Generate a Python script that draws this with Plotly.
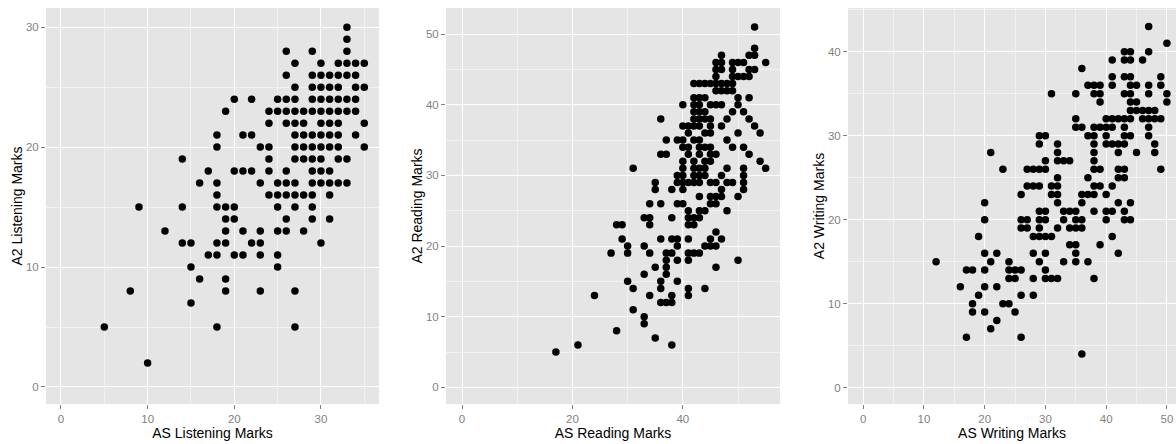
import plotly.graph_objects as go

# ---- Data: (AS mark, A2 mark) pairs ----
listening_pairs = [
    (33,30),(33,29),(33,28),(26,28),(29,28),(27,27),(30,27),(32,27),(33,27),(34,27),(35,27),
    (26,26),(29,26),(30,26),(31,26),(32,26),(33,26),(34,26),
    (34,25),(35,25),(27,25),(29,25),(30,25),(31,25),(32,25),
    (20,24),(22,24),(25,24),(26,24),(27,24),(29,24),(30,24),(31,24),(32,24),(33,24),(34,24),
    (19,23),(24,23),(25,23),(26,23),(27,23),(28,23),(29,23),(30,23),(31,23),(32,23),(33,23),(34,23),
    (24,22),(26,22),(27,22),(28,22),(30,22),(31,22),(32,22),(35,22),
    (18,21),(21,21),(22,21),(27,21),(28,21),(29,21),(30,21),(31,21),(32,21),(34,21),
    (18,20),(23,20),(24,20),(27,20),(28,20),(29,20),(30,20),(31,20),(32,20),(35,20),
    (14,19),(24,19),(27,19),(28,19),(29,19),(30,19),(32,19),(33,19),
    (26,18),(20,18),(21,18),(22,18),(24,18),(29,18),(30,18),(31,18),(17,18),
    (16,17),(18,17),(23,17),(25,17),(26,17),(27,17),(29,17),(30,17),(31,17),(32,17),(33,17),
    (18,16),(24,16),(25,16),(26,16),(27,16),(28,16),(29,16),(31,16),
    (14,15),(9,15),(18,15),(19,15),(20,15),(25,15),(27,15),(29,15),
    (19,14),(20,14),(26,14),(29,14),(31,14),
    (12,13),(19,13),(21,13),(23,13),(25,13),(26,13),(28,13),
    (14,12),(15,12),(18,12),(19,12),(22,12),(23,12),(30,12),
    (17,11),(18,11),(20,11),(21,11),(23,11),(25,11),
    (15,10),(25,10),(16,9),(19,9),
    (8,8),(19,8),(23,8),(27,8),(15,7),
    (18,5),(27,5),(5,5),(10,2),
]

reading_pairs = [
    (53,51),(53,48),(52,47),(53,47),(47,47),(46,46),(47,46),(49,46),(50,46),(51,46),(55,46),
    (46,45),(47,45),(49,45),(52,45),(53,45),
    (46,44),(49,44),(50,44),(51,44),(52,44),
    (42,43),(43,43),(44,43),(45,43),(46,43),(47,43),(48,43),(49,43),
    (46,42),(47,42),(48,42),(49,42),
    (52,41),(42,41),(43,41),(44,41),(50,41),
    (43,40),(45,40),(46,40),(47,40),(50,40),(40,40),(42,40),
    (42,39),(43,39),(44,39),(51,39),(49,39),
    (42,38),(43,38),(44,38),(45,38),(36,38),(48,38),(52,38),
    (40,37),(41,37),(42,37),(43,37),(45,37),(47,37),(53,37),
    (41,36),(44,36),(45,36),(50,36),(54,36),
    (37,35),(39,35),(40,35),(42,35),(43,35),(48,35),
    (40,34),(41,34),(43,34),(44,34),(45,34),(49,34),(51,34),
    (36,33),(37,33),(41,33),(43,33),(45,33),(46,33),(52,33),
    (40,32),(42,32),(44,32),(45,32),(54,32),
    (31,31),(40,31),(42,31),(43,31),(44,31),(48,31),(51,31),(55,31),
    (39,30),(40,30),(42,30),(43,30),(44,30),(47,30),(51,30),
    (35,29),(39,29),(40,29),(41,29),(42,29),(43,29),(45,29),(46,29),(48,29),(49,29),(51,29),
    (35,28),(38,28),(40,28),(47,28),(51,28),
    (43,27),(45,27),(46,27),(47,27),(50,27),
    (34,26),(36,26),(39,26),(40,26),(45,26),(46,26),
    (41,25),(43,25),(44,25),(48,25),
    (33,24),(34,24),(38,24),(41,24),(42,24),(43,24),
    (34,23),(28,23),(29,23),(41,23),(42,23),
    (46,22),
    (29,21),(36,21),(38,21),(39,21),(41,21),(45,21),(47,21),
    (33,20),(30,20),(39,20),(44,20),(45,20),(46,20),
    (27,19),(30,19),(34,19),(37,19),(38,19),(41,19),(42,19),(43,19),
    (41,18),(37,18),(39,18),(50,18),
    (35,17),(37,17),(46,17),
    (33,16),(37,16),
    (36,15),(30,15),(39,15),
    (36,14),(31,14),(41,14),(44,14),
    (24,13),(34,13),(38,13),(41,13),
    (36,12),(37,12),(38,12),
    (31,11),(33,10),(33,9),(28,8),(35,7),(38,6),(21,6),(17,5),
]

writing_pairs = [
    (47,43),(50,41),(43,40),(44,40),(43,39),(44,39),(47,40),(46,39),(41,39),(36,38),
    (41,37),(43,37),(44,37),(49,37),
    (37,36),(38,36),(39,36),(41,36),(44,36),(45,36),(47,36),(49,36),
    (31,35),(35,35),(38,35),(39,35),(43,35),(44,35),(47,35),(50,35),
    (39,34),(44,34),(45,34),(50,34),
    (45,33),(46,33),(44,33),(48,33),(47,33),
    (35,32),(40,32),(41,32),(42,32),(43,32),(44,32),(46,32),(47,32),(48,32),(49,32),
    (35,31),(36,31),(38,31),(39,31),(40,31),(41,31),(43,31),(47,31),
    (37,30),(38,30),(40,30),(43,30),(44,30),(29,30),(30,30),(47,30),
    (29,29),(40,29),(41,29),(42,29),(43,29),(38,29),(32,29),(48,29),
    (21,28),(32,28),(38,28),(42,28),(45,28),(48,28),
    (30,27),(32,27),(33,27),(34,27),(38,27),
    (23,26),(27,26),(28,26),(29,26),(30,26),(38,26),(39,26),(42,26),(43,26),(49,26),
    (32,25),(37,25),(42,25),(43,25),
    (27,24),(28,24),(29,24),(31,24),(32,24),(38,24),(39,24),(41,24),
    (26,23),(31,23),(32,23),(36,23),(37,23),(38,23),(40,23),
    (20,22),(32,22),(36,22),(42,22),(44,22),
    (29,21),(30,21),(33,21),(34,21),(35,21),(38,21),(40,21),(41,21),(43,21),
    (20,20),(26,20),(27,20),(29,20),(30,20),(33,20),(35,20),(36,20),(40,20),(43,20),(44,20),
    (26,19),(27,19),(29,19),(32,19),(34,19),(35,19),(36,19),
    (19,18),(28,18),(29,18),(30,18),(31,18),(41,18),
    (34,17),(35,17),(39,17),
    (20,16),(22,16),(28,16),(30,16),(35,16),(42,16),
    (35,15),(24,15),(21,15),(29,15),(37,15),(33,15),(12,15),
    (17,14),(18,14),(20,14),(24,14),(25,14),(26,14),(30,14),
    (28,13),(24,13),(25,13),(30,13),(31,13),(32,13),(38,13),
    (16,12),(20,12),(22,12),
    (26,11),(28,11),(19,11),
    (18,10),(23,10),(24,10),(25,9),(18,9),(20,9),
    (22,8),(21,7),(17,6),(26,6),(36,4),
]

x_titles = ["AS Listening Marks", "AS Reading Marks", "AS Writing Marks"]
y_titles = ["A2 Listening Marks", "A2 Reading Marks", "A2 Writing Marks"]
x_ranges = [[-1.73, 36.7], [-2.9, 57.6], [-2.5, 51.5]]
y_ranges = [[-1.42, 31.6], [-2.36, 53.7], [-1.95, 45.2]]
x_dticks = [10, 20, 10]
y_dticks = [10, 10, 10]
x_domains_px = [(46, 379), (446, 780), (848, 1176)]

W, H = 1176, 444
y_dom = [(H - 404) / H, (H - 8) / H]
FONT = "Liberation Sans, Arial, sans-serif"

fig = go.Figure()
datasets = [listening_pairs, reading_pairs, writing_pairs]
for i, pairs in enumerate(datasets):
    n = "" if i == 0 else str(i + 1)
    fig.add_trace(go.Scatter(
        x=[p[0] for p in pairs], y=[p[1] for p in pairs],
        mode="markers", xaxis="x" + n, yaxis="y" + n,
        marker=dict(color="black", size=7.5, line=dict(width=0)),
        showlegend=False, hoverinfo="skip",
    ))
    ax_common = dict(
        showgrid=True, gridcolor="white", gridwidth=1.1,
        zeroline=False, showline=False,
        ticks="outside", ticklen=4, tickcolor="#7F7F7F", tickwidth=1,
        tickfont=dict(family=FONT, size=11.5, color="#7F7F7F"),
        automargin=False,
    )
    fig.layout["xaxis" + n] = dict(
        ax_common,
        domain=[x_domains_px[i][0] / W, x_domains_px[i][1] / W],
        range=x_ranges[i], dtick=x_dticks[i], tick0=0,
        minor=dict(dtick=x_dticks[i] / 2, tick0=0, showgrid=True, gridcolor="#F2F2F2", gridwidth=0.8, ticks=""),
        anchor="y" + n,
        title=dict(text=x_titles[i], standoff=1,
                   font=dict(family=FONT, size=14, color="black")),
    )
    fig.layout["yaxis" + n] = dict(
        ax_common,
        domain=y_dom,
        range=y_ranges[i], dtick=y_dticks[i], tick0=0,
        minor=dict(dtick=y_dticks[i] / 2, tick0=0, showgrid=True, gridcolor="#F2F2F2", gridwidth=0.8, ticks=""),
        anchor="x" + n,
        title=dict(text=y_titles[i], standoff=0,
                   font=dict(family=FONT, size=14, color="black")),
    )

fig.update_layout(
    width=W, height=H,
    margin=dict(l=0, r=0, t=0, b=0),
    paper_bgcolor="white", plot_bgcolor="#E5E5E5",
)

fig.write_html("out.html",
               config={"displayModeBar": False},
               post_script="document.body.style.margin='0';document.body.style.padding='0';")
